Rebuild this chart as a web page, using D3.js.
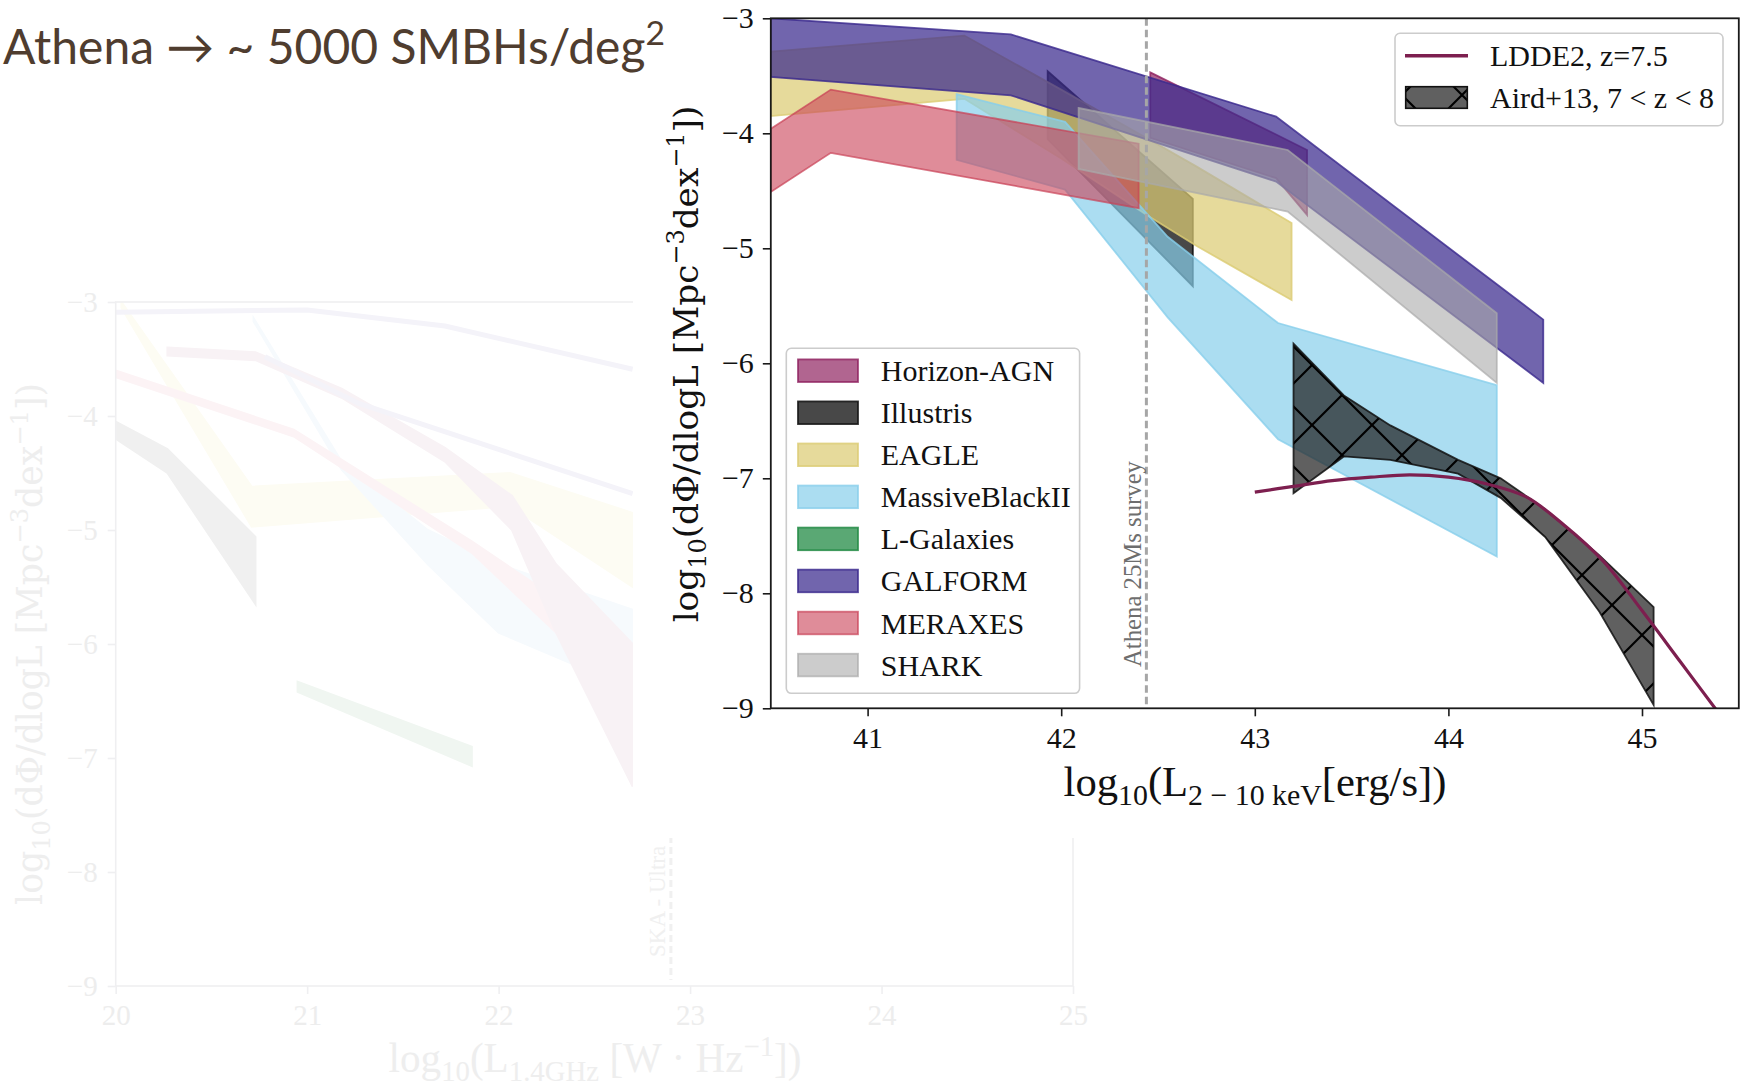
<!DOCTYPE html>
<html><head><meta charset="utf-8">
<script src="https://cdn.jsdelivr.net/npm/d3@7"></script>
<style>html,body{margin:0;padding:0;background:#fff;} svg{display:block;}</style>
</head><body>
<svg id="chart" width="1742" height="1086"></svg>
<script>
// ---------------- DATA (main chart) ----------------
const X_TICKS = [41, 42, 43, 44, 45];
const Y_TICKS = [-3, -4, -5, -6, -7, -8, -9];
const SERIES = ['Horizon-AGN','Illustris','EAGLE','MassiveBlackII','L-Galaxies','GALFORM','MERAXES','SHARK'];
const COLORS = ['#8c1c5c','#141414','#dccc74','#87ceeb','#238b45','#3a2a8e','#c94055','#aaaaaa'];
const ALPHAS = [0.68, 0.78, 0.72, 0.7, 0.75, 0.72, 0.6, 0.6];

const HORIZON_X  = [42.46, 43.11, 43.27];
const HORIZON_HI = [-3.47, -4.01, -4.145];
const HORIZON_LO = [-4.04, -4.39, -4.71];

const ILLUSTRIS_X  = [41.93, 42.68];
const ILLUSTRIS_HI = [-3.46, -4.57];
const ILLUSTRIS_LO = [-4.05, -5.33];

const EAGLE_X  = [40.5, 41.5, 42.0, 42.45, 42.7, 43.19];
const EAGLE_HI = [-3.29, -3.15, -3.62, -4.05, -4.29, -4.78];
const EAGLE_LO = [-3.85, -3.70, -4.22, -4.72, -4.98, -5.45];

const MBII_X  = [41.46, 42.02, 42.55, 43.12, 44.25];
const MBII_HI = [-3.66, -3.90, -4.90, -5.65, -6.19];
const MBII_LO = [-4.23, -4.49, -5.60, -6.66, -7.68];

const LGAL_X = [], LGAL_HI = [], LGAL_LO = [];

const GALFORM_X  = [40.5, 41.74, 43.11, 44.49];
const GALFORM_HI = [-3.0, -3.14, -3.855, -5.62];
const GALFORM_LO = [-3.51, -3.67, -4.42, -6.17];

const MERAXES_X  = [40.5, 40.81, 42.40];
const MERAXES_HI = [-3.96, -3.62, -4.09];
const MERAXES_LO = [-4.51, -4.17, -4.65];

const SHARK_X  = [42.09, 43.17, 44.25];
const SHARK_HI = [-3.78, -4.145, -5.565];
const SHARK_LO = [-4.31, -4.68, -6.17];

const AIRD_X  = [43.2, 43.46, 43.7, 44.05, 44.27, 44.5, 44.78, 45.06];
const AIRD_HI = [-5.83, -6.28, -6.54, -6.84, -7.0, -7.27, -7.67, -8.12];
const AIRD_LO = [-7.13, -6.81, -6.84, -6.96, -7.17, -7.51, -8.16, -8.97];

const LDDE_X = [43.0, 43.2, 43.4, 43.6, 43.8, 44.0, 44.2, 44.4, 44.6, 44.8, 45.0, 45.2, 45.4];
const LDDE_Y = [-7.12, -7.07, -7.02, -6.99, -6.97, -6.99, -7.05, -7.16, -7.41, -7.72, -8.15, -8.6, -9.05];

const ATHENA_LIMIT = 42.44;

// ---------------- DATA (faded background chart) ----------------
const BG_X_TICKS = [20, 21, 22, 23, 24, 25];
const BG_Y_TICKS = [-3, -4, -5, -6, -7, -8, -9];
const BG_GREY_X = [20.0, 20.27, 20.73], BG_GREY_HI = [-4.05, -4.29, -5.06], BG_GREY_LO = [-4.2, -4.5, -5.65];
const BG_YEL_X = [20.03, 20.71, 22.06, 22.7], BG_YEL_HI = [-3.0, -4.62, -4.5, -4.85], BG_YEL_LO = [-3.05, -4.97, -4.79, -5.5];
const BG_GRN_X = [20.95, 21.86], BG_GRN_HI = [-6.33, -6.9], BG_GRN_LO = [-6.42, -7.07];
const BG_MAUVE_X = [20.27, 20.73, 21.18, 21.72, 22.07, 22.3, 22.7], BG_MAUVE_HI = [-3.40, -3.44, -3.76, -4.28, -4.70, -5.3, -6.0], BG_MAUVE_LO = [-3.47, -3.51, -3.84, -4.40, -5.0, -5.9, -7.25];
const BG_PINK_X = [20.0, 20.93, 21.86, 22.3, 22.7], BG_PINK_HI = [-3.6, -4.12, -5.10, -5.6, -6.2], BG_PINK_LO = [-3.66, -4.18, -5.2, -5.9, -6.6];
const BG_BLUE_X = [20.72, 21.18, 21.63, 22.0, 22.7], BG_BLUE_HI = [-3.14, -4.40, -5.0, -5.3, -5.7], BG_BLUE_LO = [-3.17, -4.47, -5.3, -5.9, -6.4];
const BG_LAV1_X = [20.0, 21.0, 21.72, 22.7], BG_LAV1_Y = [-3.09, -3.07, -3.21, -3.59];
const BG_LAV2_X = [20.78, 21.27, 22.7], BG_LAV2_Y = [-3.48, -3.89, -4.68];
const SKA_LIMIT = 22.9;

// ---------------- helpers ----------------
const svg = d3.select('#chart');
const defs = svg.append('defs');
const zip = (xs, hi, lo) => xs.map((v, i) => ({x: v, hi: hi[i], lo: lo[i]}));
const fmtY = d => d < 0 ? '\u2212' + Math.abs(d) : String(d);
const fmtX = d3.format('d');
function rich(sel, parts, fs) {
  let cur = 0;
  parts.forEach(p => {
    const off = p.sub ? 0.22 * fs : (p.sup ? -0.4 * fs : 0);
    sel.append('tspan').text(p.t)
      .attr('font-size', (p.sub || p.sup) ? fs * 0.7 : fs)
      .attr('dy', off - cur);
    cur = off;
  });
}
function fitRich(sel, parts, target, fs0) {
  rich(sel, parts, fs0);
  const len = sel.node().getComputedTextLength();
  const fs = fs0 * target / len;
  sel.selectAll('tspan').remove();
  rich(sel, parts, fs);
  return fs;
}

// ---------------- faded background chart ----------------
const bx = d3.scaleLinear().domain([20, 25]).range([115.7, 1073]);
const by = d3.scaleLinear().domain([-9, -3]).range([986, 302]);
const bgG = svg.append('g');
defs.append('clipPath').attr('id', 'bgclip').append('rect')
  .attr('x', bx(20)).attr('y', by(-3)).attr('width', bx(25) - bx(20)).attr('height', by(-9) - by(-3));
const bgPlot = bgG.append('g').attr('clip-path', 'url(#bgclip)');
const bArea = d3.area().x(d => bx(d.x)).y0(d => by(d.lo)).y1(d => by(d.hi));
const bgBands = [
  [BG_GREY_X, BG_GREY_HI, BG_GREY_LO, '#f0f0f0'],
  [BG_YEL_X, BG_YEL_HI, BG_YEL_LO, '#fdfcf3'],
  [BG_GRN_X, BG_GRN_HI, BG_GRN_LO, '#f0f6f1'],
  [BG_BLUE_X, BG_BLUE_HI, BG_BLUE_LO, '#f6fafd'],
  [BG_PINK_X, BG_PINK_HI, BG_PINK_LO, '#fcf3f5'],
  [BG_MAUVE_X, BG_MAUVE_HI, BG_MAUVE_LO, '#f8f2f5'],
];
bgBands.forEach(b => {
  bgPlot.append('path').attr('d', bArea(zip(b[0], b[1], b[2]))).attr('fill', b[3]).attr('stroke', b[3]).attr('stroke-width', 2);
});
const bLine = d3.line().x(d => bx(d[0])).y(d => by(d[1]));
[[BG_LAV1_X, BG_LAV1_Y], [BG_LAV2_X, BG_LAV2_Y]].forEach(l => {
  bgPlot.append('path').attr('d', bLine(l[0].map((v, i) => [v, l[1][i]])))
    .attr('fill', 'none').attr('stroke', '#f4f3f9').attr('stroke-width', 5);
});
// faded axes
const bgAxisCol = '#efeff1';
bgG.append('rect').attr('x', bx(20)).attr('y', by(-3)).attr('width', bx(25) - bx(20)).attr('height', by(-9) - by(-3))
  .attr('fill', 'none').attr('stroke', bgAxisCol).attr('stroke-width', 1.6);
const bgxa = bgG.append('g').attr('transform', `translate(0,${by(-9)})`)
  .call(d3.axisBottom(bx).tickValues(BG_X_TICKS).tickFormat(fmtX).tickSize(8).tickSizeOuter(0).tickPadding(10));
bgxa.select('.domain').remove();
bgxa.attr('font-family', 'Liberation Serif').attr('font-size', 29);
bgxa.selectAll('line').attr('stroke', bgAxisCol).attr('stroke-width', 1.6);
bgxa.selectAll('text').attr('fill', '#ededed');
const bgya = bgG.append('g').attr('transform', `translate(${bx(20)},0)`)
  .call(d3.axisLeft(by).tickValues(BG_Y_TICKS).tickSize(8).tickSizeOuter(0).tickPadding(10).tickFormat(fmtY));
bgya.select('.domain').remove();
bgya.attr('font-family', 'Liberation Serif').attr('font-size', 29);
bgya.selectAll('line').attr('stroke', bgAxisCol).attr('stroke-width', 1.6);
bgya.selectAll('text').attr('fill', '#ededed');
bgG.append('line').attr('x1', bx(SKA_LIMIT)).attr('x2', bx(SKA_LIMIT)).attr('y1', 836).attr('y2', 980)
  .attr('stroke', '#f0f0f0').attr('stroke-width', 3).attr('stroke-dasharray', '7,4');
bgG.append('text').attr('transform', `translate(${bx(SKA_LIMIT) - 6},957) rotate(-90)`)
  .attr('font-family', 'Liberation Serif').attr('font-size', 23).attr('fill', '#f0f0f0').text('SKA - Ultra');
const bgxl = bgG.append('text').attr('x', 595).attr('y', 1072).attr('text-anchor', 'middle')
  .attr('font-family', 'Liberation Serif').attr('fill', '#eeeeee');
fitRich(bgxl, [{t: 'log'}, {t: '10', sub: true}, {t: '(L'}, {t: '1.4GHz', sub: true}, {t: ' [W \u00b7 Hz'}, {t: '\u22121', sup: true}, {t: '])'}], 413, 34);
const bgyl = bgG.append('text').attr('text-anchor', 'middle')
  .attr('font-family', 'DejaVu Serif').attr('fill', '#eeeeee');
const ylParts = [{t: 'log'}, {t: '10', sub: true}, {t: '(d\u03a6/dlogL [Mpc'}, {t: '\u22123', sup: true}, {t: 'dex'}, {t: '\u22121', sup: true}, {t: '])'}];
const bgfs = fitRich(bgyl, ylParts, 522, 30);
bgyl.attr('transform', `translate(31,644) rotate(-90)`).attr('y', 0.32 * bgfs);

// white cover (main figure background)
svg.append('rect').attr('x', 633).attr('y', 0).attr('width', 1742 - 633).attr('height', 838).attr('fill', '#ffffff');

// ---------------- main chart ----------------
const x = d3.scaleLinear().domain([40.5, 45.5]).range([770.8, 1738.8]);
const y = d3.scaleLinear().domain([-9, -3]).range([708.3, 18.3]);
defs.append('clipPath').attr('id', 'mainclip').append('rect')
  .attr('x', x(40.5)).attr('y', y(-3)).attr('width', x(45.5) - x(40.5)).attr('height', y(-9) - y(-3));

// hatch pattern
const pat = defs.append('pattern').attr('id', 'hatch').attr('patternUnits', 'userSpaceOnUse')
  .attr('width', 60).attr('height', 60).attr('patternTransform', 'translate(52,5)');
pat.append('path').attr('d', 'M-6,-6 L66,66 M66,-6 L-6,66').attr('stroke', '#000').attr('stroke-width', 2.2).attr('fill', 'none');

const plot = svg.append('g').attr('clip-path', 'url(#mainclip)');
const area = d3.area().x(d => x(d.x)).y0(d => y(d.lo)).y1(d => y(d.hi));
const BANDS = [
  [HORIZON_X, HORIZON_HI, HORIZON_LO],
  [ILLUSTRIS_X, ILLUSTRIS_HI, ILLUSTRIS_LO],
  [EAGLE_X, EAGLE_HI, EAGLE_LO],
  [MBII_X, MBII_HI, MBII_LO],
  [LGAL_X, LGAL_HI, LGAL_LO],
  [GALFORM_X, GALFORM_HI, GALFORM_LO],
  [MERAXES_X, MERAXES_HI, MERAXES_LO],
  [SHARK_X, SHARK_HI, SHARK_LO],
];
BANDS.forEach((b, i) => {
  if (!b[0].length) return;
  plot.append('path').attr('d', area(zip(b[0], b[1], b[2])))
    .attr('fill', COLORS[i]).attr('fill-opacity', ALPHAS[i])
    .attr('stroke', COLORS[i]).attr('stroke-opacity', Math.min(1, ALPHAS[i] + 0.1)).attr('stroke-width', 1.8);
});
// Aird+13 hatched band
const airdPts = zip(AIRD_X, AIRD_HI, AIRD_LO);
plot.append('path').attr('d', area(airdPts)).attr('fill', '#1c1c1c').attr('fill-opacity', 0.7);
plot.append('path').attr('d', area(airdPts)).attr('fill', 'url(#hatch)').attr('stroke', '#111').attr('stroke-width', 1.8).attr('stroke-opacity', 0.85);
// LDDE2 curve
const line = d3.line().x(d => x(d[0])).y(d => y(d[1])).curve(d3.curveCatmullRom);
plot.append('path').attr('d', line(LDDE_X.map((v, i) => [v, LDDE_Y[i]])))
  .attr('fill', 'none').attr('stroke', '#7d1f4f').attr('stroke-width', 3.2);
// Athena limit
plot.append('line').attr('x1', x(ATHENA_LIMIT)).attr('x2', x(ATHENA_LIMIT)).attr('y1', y(-3)).attr('y2', y(-9))
  .attr('stroke', '#a6a6a6').attr('stroke-width', 3).attr('stroke-dasharray', '7.5,4');
const athT = svg.append('text').attr('font-family', 'Liberation Serif').attr('fill', '#6e6e6e')
  .attr('font-size', 24).text('Athena 25Ms survey');
const athLen = athT.node().getComputedTextLength();
athT.attr('font-size', 24 * 206 / athLen)
  .attr('transform', `translate(${x(ATHENA_LIMIT) - 5},667) rotate(-90)`);

// axes
const gx = svg.append('g').attr('transform', `translate(0,${y(-9)})`)
  .call(d3.axisBottom(x).tickValues(X_TICKS).tickFormat(fmtX).tickSize(8).tickSizeOuter(0).tickPadding(10));
gx.select('.domain').remove();
gx.attr('font-family', 'Liberation Serif').attr('font-size', 30);
gx.selectAll('line').attr('stroke', '#1a1a1a').attr('stroke-width', 1.6);
gx.selectAll('text').attr('fill', '#111');
const gy = svg.append('g').attr('transform', `translate(${x(40.5)},0)`)
  .call(d3.axisLeft(y).tickValues(Y_TICKS).tickSize(8).tickSizeOuter(0).tickPadding(9).tickFormat(fmtY));
gy.select('.domain').remove();
gy.attr('font-family', 'Liberation Serif').attr('font-size', 30);
gy.selectAll('line').attr('stroke', '#1a1a1a').attr('stroke-width', 1.6);
gy.selectAll('text').attr('fill', '#111');
svg.append('rect').attr('x', x(40.5)).attr('y', y(-3)).attr('width', x(45.5) - x(40.5)).attr('height', y(-9) - y(-3))
  .attr('fill', 'none').attr('stroke', '#1a1a1a').attr('stroke-width', 1.8);

// axis labels
const xl = svg.append('text').attr('x', 1255).attr('y', 796).attr('text-anchor', 'middle')
  .attr('font-family', 'Liberation Serif').attr('fill', '#111');
fitRich(xl, [{t: 'log'}, {t: '10', sub: true}, {t: '(L'}, {t: '2 \u2212 10 keV', sub: true}, {t: '[erg/s])'}], 383, 34);
const yl = svg.append('text').attr('text-anchor', 'middle').attr('font-family', 'DejaVu Serif').attr('fill', '#111');
const yfs = fitRich(yl, ylParts, 517, 30);
yl.attr('transform', `translate(687,364) rotate(-90)`).attr('y', 0.32 * yfs);

// legend (top right)
const lg1 = svg.append('g');
lg1.append('rect').attr('x', 1395).attr('y', 33.3).attr('width', 328).attr('height', 92.4).attr('rx', 5)
  .attr('fill', '#fff').attr('fill-opacity', 0.85).attr('stroke', '#cccccc').attr('stroke-width', 1.6);
lg1.append('line').attr('x1', 1405).attr('x2', 1468).attr('y1', 55.7).attr('y2', 55.7).attr('stroke', '#7d1f4f').attr('stroke-width', 3.6);
lg1.append('text').attr('x', 1490).attr('y', 66).attr('font-family', 'Liberation Serif').attr('font-size', 30).attr('fill', '#111').text('LDDE2, z=7.5');
lg1.append('rect').attr('x', 1405.7).attr('y', 86.7).attr('width', 61.6).attr('height', 21.6).attr('fill', '#1c1c1c').attr('fill-opacity', 0.7);
lg1.append('rect').attr('x', 1405.7).attr('y', 86.7).attr('width', 61.6).attr('height', 21.6).attr('fill', 'url(#hatch)')
  .attr('stroke', '#111').attr('stroke-width', 1.6);
lg1.append('text').attr('x', 1490).attr('y', 108).attr('font-family', 'Liberation Serif').attr('font-size', 30).attr('fill', '#111').text('Aird+13, 7 < z < 8');

// legend (models)
const lg2 = svg.append('g');
lg2.append('rect').attr('x', 786.3).attr('y', 348.3).attr('width', 293.3).attr('height', 345).attr('rx', 5)
  .attr('fill', '#fff').attr('fill-opacity', 0.85).attr('stroke', '#cccccc').attr('stroke-width', 1.6);
SERIES.forEach((s, i) => {
  const cy = 370.7 + i * 42.05;
  lg2.append('rect').attr('x', 798).attr('y', cy - 11.3).attr('width', 60).attr('height', 22.6)
    .attr('fill', COLORS[i]).attr('fill-opacity', ALPHAS[i])
    .attr('stroke', COLORS[i]).attr('stroke-opacity', Math.min(1, ALPHAS[i] + 0.1)).attr('stroke-width', 1.8);
  lg2.append('text').attr('x', 880.8).attr('y', cy + 10.5).attr('font-family', 'Liberation Serif')
    .attr('font-size', 30).attr('fill', '#111').text(s);
});

// title
const title = svg.append('text').attr('x', 3).attr('y', 64).attr('font-family', 'Lato').attr('fill', '#4f3d2f');
fitRich(title, [{t: 'Athena \u2192 ~ 5000 SMBHs/deg'}, {t: '2', sup: true}], 662, 50);
</script>
</body></html>
